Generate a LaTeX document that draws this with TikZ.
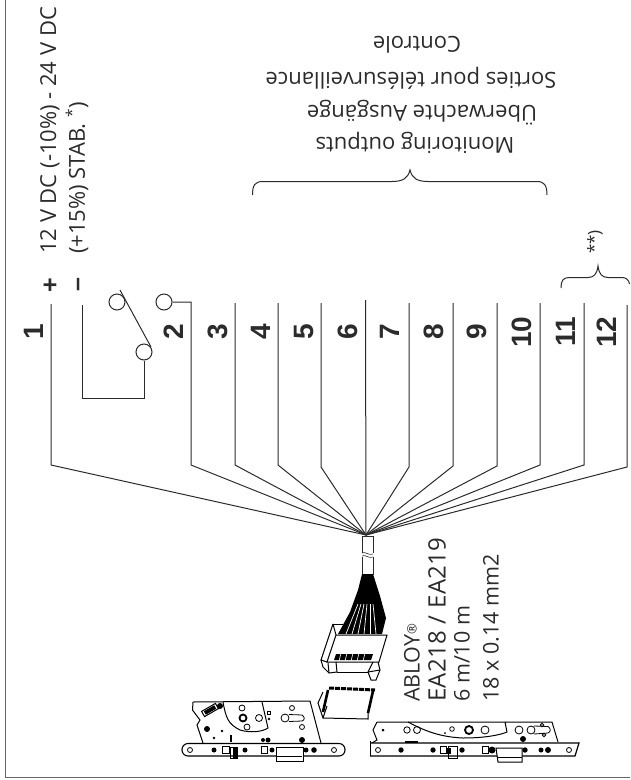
\documentclass[tikz,border=0pt]{standalone}
\usepackage{fontspec}
\setmainfont{Open Sans}
\setsansfont{Liberation Sans}
\newfontfamily\widefont[LetterSpace=1.5]{Open Sans}
\usetikzlibrary{calc}
\definecolor{inkgray}{HTML}{2B2B2B}
\newcommand{\wirewidth}{1pt}
\newcommand{\lockwidth}{1pt}
\tikzset{
  wire/.style={draw=inkgray,line width=\wirewidth},
  term/.style={font=\sffamily\bfseries\fontsize{28}{28}\selectfont,rotate=90,inner sep=0pt,text=inkgray},
  sidetext/.style={font=\fontsize{22}{24}\selectfont,rotate=90,anchor=west,inner sep=0pt,text=inkgray},
  cabletext/.style={sidetext,font=\widefont\fontsize{24}{24}\selectfont},
  headtext/.style={font=\fontsize{22}{24}\selectfont,rotate=180,inner sep=0pt,text=inkgray},
  contact/.style={circle,draw=inkgray,line width=\wirewidth,minimum size=16pt,inner sep=0pt},
  lockline/.style={draw=black,line width=\lockwidth},
  hole/.style={draw=black,line width=0.8pt},
}
\begin{document}
\begin{tikzpicture}[x=1pt,y=-1pt]
\useasboundingbox (0,0) rectangle (630,780);
%frame
\coordinate (frametop) at (5,0);
\coordinate (framecorner) at (5,777.5);
\coordinate (frameend) at (630,777.5);
\draw[wire,draw=gray!80!black] (frametop) -- (framecorner) -- (frameend);
%terminals
\node[term] (t1) at (34,332) {1};
\node[term] (t2) at (174,332) {2};
\node[term] (t3) at (218,332) {3};
\node[term] (t4) at (261,332) {4};
\node[term] (t5) at (304,332) {5};
\node[term] (t6) at (348,332) {6};
\node[term] (t7) at (390,332) {7};
\node[term] (t8) at (434,332) {8};
\node[term] (t9) at (477,332) {9};
\node[term] (t10) at (522,332) {10};
\node[term] (t11) at (566,332) {11};
\node[term] (t12) at (607,332) {12};
%wires
\coordinate (hub) at (366,535);
\coordinate (w1) at (51,304);
\coordinate (b1) at (51,465);
\coordinate (w3) at (235,303);
\coordinate (b3) at (235,465);
\coordinate (w4) at (278,303);
\coordinate (b4) at (278,465);
\coordinate (w5) at (321,303);
\coordinate (b5) at (321,467);
\coordinate (w6) at (365.5,300);
\coordinate (w7) at (409,303);
\coordinate (b7) at (409,467);
\coordinate (w8) at (453,303);
\coordinate (b8) at (453,466);
\coordinate (w9) at (497,303);
\coordinate (b9) at (497,466);
\coordinate (w10) at (540,303);
\coordinate (b10) at (540,465);
\coordinate (w11) at (584,303);
\coordinate (b11) at (584,465);
\coordinate (w12) at (627,305);
\coordinate (b12) at (627,467);
\coordinate (b2) at (191,465);
\draw[wire] (w1) -- (b1) -- (hub);
\draw[wire] (w3) -- (b3) -- (hub);
\draw[wire] (w4) -- (b4) -- (hub);
\draw[wire] (w5) -- (b5) -- (hub);
\draw[wire] (w6) -- (hub);
\draw[wire] (w7) -- (b7) -- (hub);
\draw[wire] (w8) -- (b8) -- (hub);
\draw[wire] (w9) -- (b9) -- (hub);
\draw[wire] (w10) -- (b10) -- (hub);
\draw[wire] (w11) -- (b11) -- (hub);
\draw[wire] (w12) -- (b12) -- (hub);
%switch
\node[contact] (c2) at (164,302) {};
\node[contact] (c1) at (117,302) {};
\node[contact] (c3) at (144,352) {};
\coordinate (lever1) at (120,290);
\coordinate (lever2) at (151,347);
\coordinate (minus) at (82,305);
\coordinate (loopa) at (82,398);
\coordinate (loopb) at (144,398);
\coordinate (top2) at (191,302);
\draw[wire] (lever1) -- (lever2);
\draw[wire] (minus) -- (loopa) -- (loopb) -- (c3);
\draw[wire] (c2) -- (top2) -- (b2) -- (hub);
%supply
\node[term,font=\sffamily\bfseries\fontsize{25}{25}\selectfont] (plus) at (51,285) {+};
\node[term,font=\sffamily\bfseries\fontsize{25}{25}\selectfont] (neg) at (81,285) {--};
\node[sidetext] (volt1) at (50,254) {12 V DC (-10\%) - 24 V DC};
\node[sidetext] (volt2) at (77,254) {(+15\%) STAB. \textsuperscript{*})};
%outputs
\node[headtext] (head1) at (415,143) {Monitoring outputs};
\node[headtext] (head2) at (422,113) {Überwachte Ausgänge};
\node[headtext] (head3) at (411,78) {Sorties pour télésurveillance};
\node[headtext] (head4) at (417,45) {Controle};
\draw[wire] (252.5,195) .. controls (252.5,185) and (255,181.5) .. (263,181.5) -- (392,181.5) .. controls (403,181.5) and (408,178) .. (410,170) .. controls (412,178) and (417,181.5) .. (428,181.5) -- (537,181.5) .. controls (544,181.5) and (547,185) .. (547,195);
\draw[wire] (561,288) .. controls (561,281) and (563,277.5) .. (569,277.5) -- (588,277.5) .. controls (594,277.5) and (597,274) .. (598,266) .. controls (599,274) and (602,277.5) .. (608,277.5) -- (622,277.5) .. controls (626,277.5) and (629,280) .. (629.5,284);
\node[rotate=90,inner sep=0pt,font=\fontsize{17}{17}\selectfont,text=inkgray] (note) at (595,242) {**)};
%cable text
\node[sidetext,font=\fontsize{21.5}{24}\selectfont] (abloy) at (412,702) {ABLOY\raisebox{3pt}{\fontsize{13}{13}\selectfont ®}};
\node[cabletext] (type) at (437,702) {EA218 / EA219};
\node[sidetext,font=\fontsize{21.5}{24}\selectfont] (length) at (462,702) {6 m/10 m};
\node[sidetext,font=\fontsize{21.5}{24}\selectfont] (section) at (491,702) {18 x 0.14 mm2};
%cable
\draw[wire] (362,536) rectangle (373,574);
\fill[white] (360,553) rectangle (375,557);
\draw[wire,line width=0.6pt] (362,553) .. controls (365,551) and (369,556) .. (373,554);
\draw[wire,line width=0.6pt] (362,556) .. controls (365,554) and (369,559) .. (373,557);
%upper connector
\fill[white] (333,624) -- (387,634) -- (379,662) -- (327,662) -- cycle;
\draw[lockline] (333,624) -- (336,635) -- (387,635) -- (379,662) -- (327,662) -- (336,635);
\draw[lockline] (333,624) -- (343,624);
\draw[lockline] (333,624) -- (321,660) -- (327,662);
\fill[black] (336,654) -- (373,654) -- (371,660) -- (334,660) -- cycle;
\draw[white,line width=0.6pt] (341,653) -- (339,661);
\draw[white,line width=0.6pt] (347,653) -- (345,661);
\draw[white,line width=0.6pt] (353,653) -- (351,661);
\draw[white,line width=0.6pt] (359,653) -- (357,661);
\draw[white,line width=0.6pt] (365,653) -- (363,661);
\draw[lockline] (321,660) -- (323,667) -- (329,673) -- (337,672) -- (336,662);
\draw[lockline] (329,673) -- (328,663);
\draw[lockline] (337,672) -- (368,672);
\draw[lockline] (373,662) -- (368,672) -- (371,680) -- (376,680) -- (380,670) -- (378,662);
\draw[lockline] (368,672) -- (380,670);
%strands
\fill[black] (362,574) -- (373,574) -- (380,596) -- (386,618) -- (382,634) -- (338,634) -- (350,612) -- (358,590) -- cycle;
\draw[white,line width=0.7pt] (358,604) -- (346,634);
\draw[white,line width=0.7pt] (361,604) -- (352,634);
\draw[white,line width=0.7pt] (364,604) -- (358,634);
\draw[white,line width=0.7pt] (367,604) -- (364,634);
\draw[white,line width=0.7pt] (370,604) -- (370,634);
\draw[white,line width=0.7pt] (373,604) -- (376,634);
%lower connector
\draw[line width=3pt,dash pattern=on 5pt off 1pt] (329,688) -- (375,690);
\draw[line width=2.6pt] (328,690) -- (323,712);
\draw[line width=2.6pt] (373,691) -- (368,713);
\draw[lockline] (323,692) -- (318,703) -- (323,718) -- (368,719) -- (368,713);
\draw[lockline] (323,718) -- (327,706);
%left lock
\draw[lockline] (193,702) -- (310,701) -- (321,743);
\draw[lockline] (193,702) -- (192.5,710) -- (200,720) -- (197,725) -- (203,743);
\draw[lockline] (223,702) .. controls (226,718) and (228,724) .. (240,730) .. controls (250,733) and (262,732) .. (268,728) -- (262,702);
\draw[lockline,rotate around={30:(210,710)}] (202,707) rectangle (218,713);
\fill[black,rotate around={30:(210,710)}] (204,708) rectangle (216,712);
\fill[black] (220,706) circle (3);
\fill[black] (207,729) circle (3);
\fill[black] (222,731) circle (1.3);
\fill[black] (214,738) circle (1.3);
\fill[black] (230,735) rectangle (232,742);
\draw[hole] (242,708) circle (3);
\draw[hole,line width=1.8pt] (243,718) circle (3.5);
\draw[hole] (259,718) circle (3.5);
\draw[hole] (247,727) circle (3);
\draw[hole] (267,711) rectangle (270,714);
\fill[black] (269,719) circle (1.3);
\draw[hole] (285,718) circle (4) (289,714.5) -- (302,715) .. controls (305,717) and (305,720) .. (302,721) -- (289,721.5);
\draw[hole] (292,708) circle (2.5);
\draw[hole] (302,727) circle (2.5);
\fill[black] (263,740) circle (2) (268,740) circle (2.5);
\fill[black] (302,740) circle (3);
\fill[white] (182,750) -- (186,743.5) -- (340,743.5) -- (345,749) -- (340,756) -- (186,756) -- cycle;
\draw[lockline,line width=1.1pt,rounded corners=6pt] (182,743.5) rectangle (345,756);
\fill[black] (214,750) circle (2.5) (245,750) circle (2.5) (272,750) circle (2.5) (306,750) circle (2.5) (314,750) circle (2.8);
\draw[hole] (190,750) circle (2.5);
\draw[hole] (334,750) circle (2.5);
\draw[hole] (222,746.5) rectangle (229,753);
\draw[hole] (261,746.5) rectangle (267,753);
\fill[white] (276,747) rectangle (303,761);
\draw[lockline] (276,747) rectangle (303,761);
\draw[lockline] (277,756) -- (302,756);
\draw[lockline] (230,747) rectangle (237,758);
\fill[black] (233,748) rectangle (237,758);
%right lock
\draw[lockline] (377,722) -- (552,722) -- (558,742);
\draw[lockline] (377,722) -- (373,730) -- (377,740) -- (372,743);
\fill[black] (383,730) circle (1.5);
\draw[lockline] (408,722) .. controls (425,731) and (440,737) .. (463,738) .. controls (485,738) and (500,735) .. (507,732) -- (505,722);
\draw[hole] (407,730) circle (3.2);
\draw[hole] (417,730) circle (3.5);
\draw[hole] (452,729) circle (2.3);
\fill[black] (445,733) circle (1);
\draw[hole,line width=1.8pt] (469,730) circle (4);
\draw[hole] (485,730) circle (4);
\draw[hole] (519,730) circle (4);
\draw[hole] (531,730) circle (4) (534,726) -- (548,726.5) .. controls (551,728) and (551,732) .. (548,733) -- (534,734);
\draw[hole] (542,725) circle (1.8);
\draw[hole] (544,735) circle (1.8);
\fill[black] (523,739) circle (3);
\fill[black] (405,741) rectangle (418,742.5);
\fill[white] (370,743) rectangle (579,756);
\draw[lockline,line width=1.2pt] (370,743) -- (579,743) -- (575,756) -- (370,756);
\draw[lockline] (370,743) -- (370,756);
\draw[lockline] (370,741) -- (370,743);
\draw[hole] (378,750) circle (2.5);
\draw[hole] (569,750) circle (2.5);
\fill[black] (401,750) circle (2.7) (433,750) circle (2.7) (462,750) circle (2.7) (492,750) circle (3.5) (525,750) circle (2.7) (541,750) circle (2.5) (548,750) circle (3);
\draw[hole] (440,746.5) rectangle (446,753);
\draw[hole] (482,746.5) rectangle (488,753);
\fill[white] (496,748) -- (522,748) -- (522,762) -- (498,762) -- cycle;
\draw[lockline] (496,748) -- (522,748) -- (522,762) -- (498,762) -- cycle;
\draw[lockline] (497,757) -- (522,757);
\draw[lockline] (448,746) rectangle (457,758);
\fill[black] (447,748) rectangle (451,754);
\end{tikzpicture}
\end{document}
